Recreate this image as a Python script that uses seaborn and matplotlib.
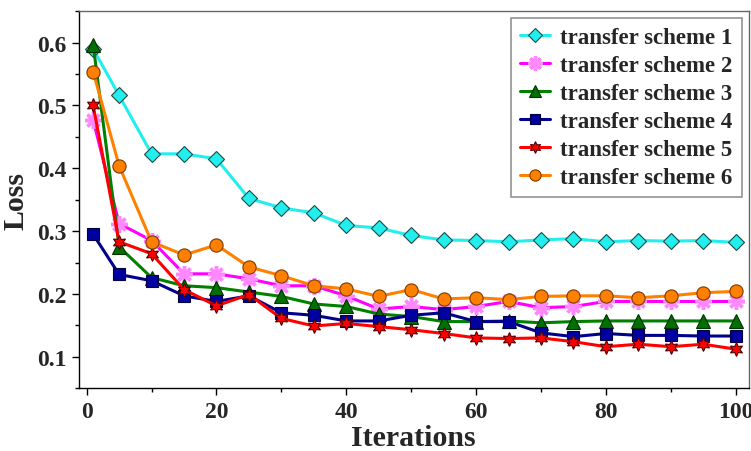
import matplotlib
matplotlib.use("Agg")
import matplotlib.pyplot as plt
from matplotlib.ticker import MultipleLocator
import seaborn as sns
import pandas as pd

iterations = [1, 5, 10, 15, 20, 25, 30, 35, 40, 45, 50, 55, 60, 65, 70, 75, 80, 85, 90, 95, 100]

scheme1 = [0.590, 0.516, 0.423, 0.423, 0.415, 0.352, 0.337, 0.329, 0.309, 0.305, 0.293,
           0.286, 0.285, 0.283, 0.286, 0.288, 0.283, 0.285, 0.284, 0.285, 0.282]
scheme2 = [0.477, 0.312, 0.285, 0.232, 0.232, 0.224, 0.213, 0.213, 0.197, 0.176, 0.180,
           0.175, 0.180, 0.188, 0.178, 0.180, 0.188, 0.188, 0.188, 0.188, 0.188]
scheme3 = [0.597, 0.275, 0.226, 0.213, 0.210, 0.203, 0.196, 0.184, 0.180, 0.168, 0.164,
           0.156, 0.156, 0.157, 0.154, 0.156, 0.157, 0.157, 0.157, 0.157, 0.157]
scheme4 = [0.295, 0.231, 0.221, 0.197, 0.188, 0.197, 0.170, 0.166, 0.157, 0.157, 0.166,
           0.170, 0.156, 0.156, 0.138, 0.132, 0.137, 0.134, 0.134, 0.133, 0.133]
scheme5 = [0.500, 0.283, 0.264, 0.207, 0.181, 0.199, 0.161, 0.149, 0.153, 0.148, 0.143,
           0.137, 0.130, 0.129, 0.130, 0.124, 0.116, 0.120, 0.116, 0.120, 0.112]
scheme6 = [0.554, 0.404, 0.283, 0.262, 0.278, 0.243, 0.229, 0.213, 0.208, 0.196, 0.207,
           0.192, 0.194, 0.191, 0.196, 0.197, 0.197, 0.194, 0.197, 0.202, 0.204]

labels = ["transfer scheme 1", "transfer scheme 2", "transfer scheme 3",
          "transfer scheme 4", "transfer scheme 5", "transfer scheme 6"]
series = [scheme1, scheme2, scheme3, scheme4, scheme5, scheme6]

sns.set_theme(style="white")
plt.rcParams['font.family'] = ['Liberation Serif', 'DejaVu Serif']
plt.rcParams['font.weight'] = 'bold'

styles = [
    dict(color="#22EEEE", marker="D", ms=8, mfc="#22EEEE", mec="#1a4a4a", mew=0.8),
    dict(color="#FF00FF", marker=(8, 2, 0), ms=12, mfc="#FF88FF", mec="#FF88FF", mew=2.5),
    dict(color="#008000", marker="^", ms=10, mfc="#007000", mec="#003000", mew=0.8),
    dict(color="#00008B", marker="s", ms=8.5, mfc="#0000A0", mec="#000040", mew=0.8),
    dict(color="#FF0000", marker=(6, 1, 0), ms=10, mfc="#FF0000", mec="#550000", mew=0.8),
    dict(color="#FF8000", marker="o", ms=9.5, mfc="#FF8000", mec="#7a3a00", mew=0.8),
]

fig = plt.figure(figsize=(7.51, 4.52), dpi=100)
ax = fig.add_axes([0.105, 0.139, 0.892, 0.834])

for lab, vals, st in zip(labels, series, styles):
    df = pd.DataFrame({"Iterations": iterations, "Loss": vals})
    sns.lineplot(data=df, x="Iterations", y="Loss", ax=ax, label=lab,
                 color=st["color"], linewidth=2.2, marker=st["marker"],
                 markersize=st["ms"], markerfacecolor=st["mfc"],
                 markeredgecolor=st["mec"], markeredgewidth=st["mew"])

ax.set_xlim(-1.2, 102)
ax.set_ylim(0.05, 0.65)
ax.xaxis.set_major_locator(MultipleLocator(20))
ax.xaxis.set_minor_locator(MultipleLocator(10))
ax.yaxis.set_minor_locator(MultipleLocator(0.05))
ax.set_yticks([0.1, 0.2, 0.3, 0.4, 0.5, 0.6])
ax.set_yticklabels(["0.1", "0.2", "0.3", "0.4", "0.5", "0.6"])
ax.tick_params(axis="both", which="major", direction="out", length=5, width=1,
               labelsize=17, left=True, bottom=True, color="black", pad=4)
ax.tick_params(axis="both", which="minor", direction="out", length=3, width=1,
               left=True, bottom=True, color="black")
for lbl in ax.get_xticklabels() + ax.get_yticklabels():
    lbl.set_fontweight("bold")

for side in ["left", "bottom"]:
    ax.spines[side].set_color("black")
    ax.spines[side].set_linewidth(1.0)
for side in ["top", "right"]:
    ax.spines[side].set_color("#666666")
    ax.spines[side].set_linewidth(1.0)

ax.set_xlabel("Iterations", fontsize=21.5, fontweight="bold", labelpad=2)
ax.set_ylabel("Loss", fontsize=21.5, fontweight="bold", labelpad=5)

leg = ax.legend(loc="upper right", fontsize=16.5, frameon=True, fancybox=False,
                edgecolor="#777777", borderpad=0.4, labelspacing=0.3,
                handlelength=1.3, handletextpad=0.45, borderaxespad=0.3,
                markerscale=0.85)
leg.get_frame().set_linewidth(1.2)
for t in leg.get_texts():
    t.set_fontweight("bold")

fig.savefig("out.png", dpi=100)
